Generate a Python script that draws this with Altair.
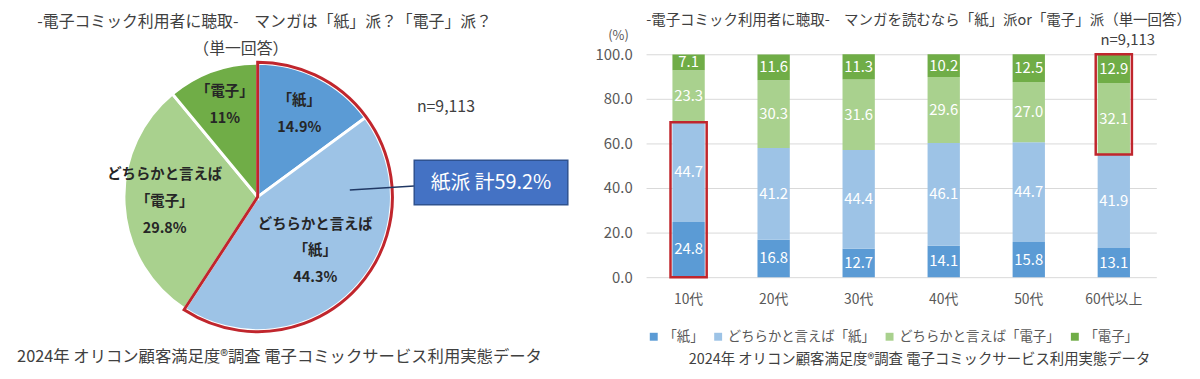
import altair as alt
import pandas as pd

FONT = "Noto Sans CJK JP"

# ---------------- data ----------------
pie_cats = ["「紙」", "どちらかと言えば「紙」", "どちらかと言えば「電子」", "「電子」"]
pie_pct = [14.9, 44.3, 29.8, 11.0]
pie_labels = ["「紙」\n14.9%", "どちらかと言えば\n「紙」\n44.3%",
              "どちらかと言えば\n「電子」\n29.8%", "「電子」\n11%"]
colors = ["#5B9BD5", "#9DC3E6", "#A9D18E", "#70AD47"]

ages = ["10代", "20代", "30代", "40代", "50代", "60代以上"]
kami = [24.8, 16.8, 12.7, 14.1, 15.8, 13.1]
dochira_kami = [44.7, 41.2, 44.4, 46.1, 44.7, 41.9]
dochira_denshi = [23.3, 30.3, 31.6, 29.6, 27.0, 32.1]
denshi = [7.1, 11.6, 11.3, 10.2, 12.5, 12.9]
y_ticks = [0, 20, 40, 60, 80, 100]

highlight = [("10代", "紙派"), ("60代以上", "電子派")]

left_title1 = "-電子コミック利用者に聴取-　マンガは「紙」派？「電子」派？"
left_title2 = "（単一回答）"
right_title = "-電子コミック利用者に聴取-　マンガを読むなら「紙」派or「電子」派（単一回答）"
footer = "2024年 オリコン顧客満足度®調査 電子コミックサービス利用実態データ"
n_text = "n=9,113"
callout_text = "紙派 計59.2%"

TXT = "#404040"
AX = "#595959"
RED = "#C0262D"
LINE_H = 27

# ---------------- left: pie ----------------
pie_df = pd.DataFrame({"cat": pie_cats, "pct": pie_pct, "label": pie_labels,
                       "k": list(range(len(pie_cats)))})
theta_scale = alt.Scale(domain=[0, 100])
color_scale = alt.Scale(domain=pie_cats, range=colors)

pie_base = alt.Chart(pie_df)
arcs = pie_base.mark_arc(radius=135, stroke="white", strokeWidth=3).encode(
    theta=alt.Theta("pct:Q", stack=True, scale=theta_scale),
    order=alt.Order("k:Q"),
    color=alt.Color("cat:N", scale=color_scale, legend=None),
)
outline = pie_base.transform_filter("datum.k < 2").transform_aggregate(
    tot="sum(pct)"
).mark_arc(radius=136, fillOpacity=0, stroke=RED, strokeWidth=3).encode(
    theta=alt.Theta("tot:Q", stack=True, scale=theta_scale),
)

label_radii = [93, 80, 94, 98]
label_layers = []
for i, r in enumerate(label_radii):
    n_lines = pie_labels[i].count("\n") + 1
    label_layers.append(
        pie_base.transform_window(cum="sum(pct)", sort=[alt.SortField("k")])
        .transform_calculate(mid="datum.cum - datum.pct / 2")
        .transform_filter(f"datum.k == {i}")
        .mark_text(radius=r, lineBreak="\n", lineHeight=LINE_H, fontSize=14.5,
                   fontWeight="bold", color="#262626", font=FONT,
                   dy=-(n_lines - 1) * LINE_H / 2)
        .encode(theta=alt.Theta("mid:Q", stack=None, scale=theta_scale),
                text="label:N")
    )

def txt(t, x, y, size, color=TXT, align="center", weight="normal"):
    return alt.Chart(pd.DataFrame({"t": [t]})).mark_text(
        fontSize=size, color=color, align=align, baseline="middle",
        font=FONT, fontWeight=weight
    ).encode(text="t:N", x=alt.value(x), y=alt.value(y))

box = alt.Chart(pd.DataFrame({"t": [callout_text]})).mark_rect(
    fill="#4472C4", stroke="#2F528F", strokeWidth=1.5
).encode(x=alt.value(410), x2=alt.value(565), y=alt.value(107), y2=alt.value(152))
leader = alt.Chart(pd.DataFrame({"t": [callout_text]})).mark_rule(
    color="#203864", strokeWidth=1.5
).encode(x=alt.value(345), x2=alt.value(410), y=alt.value(137), y2=alt.value(133))

left = alt.layer(
    arcs, outline, *label_layers, leader, box,
    txt(callout_text, 487.5, 130, 20, color="white"),
    txt(left_title1, 259, -32, 16),
    txt(left_title2, 235, -5, 16),
    txt(n_text, 442, 53, 16),
    txt(footer, 274, 306, 16.5),
).properties(width=504, height=288)

# ---------------- right: stacked bars ----------------
rows = []
for i, a in enumerate(ages):
    for k, (c, vals) in enumerate(zip(pie_cats, [kami, dochira_kami, dochira_denshi, denshi])):
        rows.append({"age": a, "cat": c, "k": k, "value": vals[i]})
bar_df = pd.DataFrame(rows)

stacked = alt.Chart(bar_df).transform_stack(
    stack="value", groupby=["age"], as_=["y0", "y1"],
    sort=[alt.SortField("k", order="ascending")]
).transform_calculate(mid="(datum.y0 + datum.y1) / 2")

x_enc = alt.X("age:N", sort=ages, title=None,
              scale=alt.Scale(paddingInner=0.62, paddingOuter=0.31),
              axis=alt.Axis(labelAngle=0, labelFontSize=14, labelColor=AX,
                            labelPadding=16, domain=False, ticks=False, grid=False,
                            labelFont=FONT))
y_scale = alt.Scale(domain=[0, 100])

bars = stacked.mark_bar().encode(
    x=x_enc,
    y=alt.Y("y0:Q", scale=y_scale,
            axis=alt.Axis(values=y_ticks, format=".1f", labelFontSize=15,
                          labelColor=AX, labelPadding=14, domain=False, ticks=False,
                          gridColor="#D9D9D9", labelFont=FONT,
                          title="(%)", titleAngle=0, titleX=-18, titleY=-19,
                          titleAlign="right", titleBaseline="middle",
                          titleFontSize=13, titleFontWeight="normal",
                          titleColor=AX, titleFont=FONT)),
    y2="y1:Q",
    color=alt.Color("cat:N", scale=color_scale,
                    legend=alt.Legend(title=None, orient="none", legendX=1, legendY=278,
                                      direction="horizontal", symbolType="square",
                                      symbolSize=64, symbolStrokeWidth=0,
                                      labelFontSize=13.5, labelColor=AX, labelFont=FONT,
                                      labelLimit=400,
                                      columnPadding=8, labelOffset=3, padding=0)),
)
bar_text = stacked.mark_text(color="white", fontSize=15, font=FONT).encode(
    x=alt.X("age:N", sort=ages),
    y=alt.Y("mid:Q"),
    text=alt.Text("value:Q", format=".1f"),
)

hl_expr = " || ".join(
    f"(datum.age == '{a}' && datum.grp == '{g}')" for a, g in highlight
)
hl = stacked.transform_calculate(
    grp="datum.k < 2 ? '紙派' : '電子派'"
).transform_filter(hl_expr).transform_aggregate(
    lo="min(y0)", hi="max(y1)", groupby=["age"]
).mark_bar(fillOpacity=0, stroke=RED, strokeWidth=2.5,
           width=alt.RelativeBandSize(1.12)).encode(
    x=alt.X("age:N", sort=ages), y="lo:Q", y2="hi:Q"
)

n_right = alt.Chart(pd.DataFrame({"age": [ages[-1]], "v": [100], "t": [n_text]})).mark_text(
    fontSize=15, color=TXT, dy=-14, dx=14, font=FONT
).encode(x=alt.X("age:N", sort=ages), y=alt.Y("v:Q"), text="t:N")

right = alt.layer(
    bars, bar_text, hl, n_right,
    txt(right_title, 275, -34, 14.6),
    txt(footer, 276, 309, 14.5),
).properties(width=515, height=225)

chart = alt.hconcat(left, right, spacing=140, bounds="flush").resolve_scale(
    color="independent"
).resolve_legend(color="independent").properties(
    padding={"top": 3, "left": 0, "right": 0, "bottom": 0}
).configure(font=FONT).configure_view(strokeWidth=0, stroke="transparent")

chart.save("out.html", embed_options={"renderer": "svg", "actions": False})
